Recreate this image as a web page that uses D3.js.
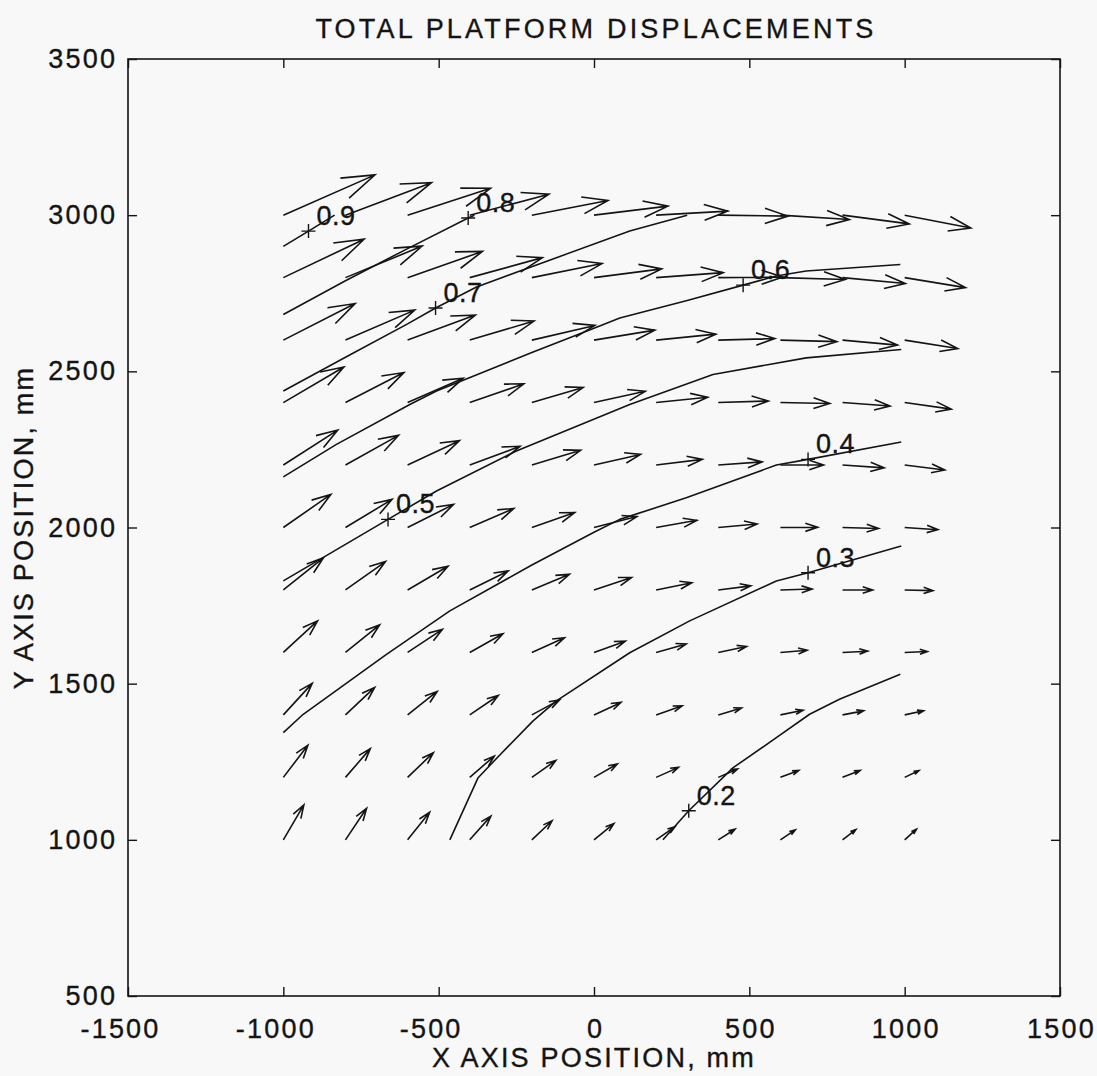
<!DOCTYPE html>
<html>
<head>
<meta charset="utf-8">
<script src="https://cdn.jsdelivr.net/npm/d3@7"></script>
<style>
  html, body { margin: 0; padding: 0; background: #f8f8f8; }
  svg { display: block; }
  text { font-family: "Liberation Sans", Arial, Helvetica, sans-serif; fill: #141414; stroke: #141414; stroke-width: 0.35px; }
</style>
</head>
<body>
<svg id="chart" width="1097" height="1076"></svg>
<script>
// Measurement grid (mm)
const xGrid = [-1000, -800, -600, -400, -200, 0, 200, 400, 600, 800, 1000];
const yGrid = [1000, 1200, 1400, 1600, 1800, 2000, 2200, 2400, 2600, 2800, 3000];

// Displacement vectors as plotted (mm on the axes), one row per y position
const U = [
  [ 66,  68,  71,  68,  65,  64,  61,  54,  48,  43,  38],
  [ 79,  80,  83,  79,  77,  75,  72,  62,  59,  57,  46],
  [ 93,  94,  95,  92,  89,  87,  84,  75,  73,  68,  61],
  [110, 110, 112, 107, 105, 101,  97,  91,  86,  81,  73],
  [129, 129, 130, 124, 121, 121, 115, 105, 102,  97,  91],
  [153, 150, 148, 142, 138, 138, 131, 125, 120, 116, 107],
  [175, 171, 167, 162, 157, 150, 149, 141, 139, 134, 129],
  [195, 188, 179, 174, 165, 165, 166, 161, 159, 153, 150],
  [231, 223, 218, 207, 203, 196, 192, 182, 182, 177, 171],
  [260, 247, 241, 234, 226, 218, 216, 208, 209, 202, 196],
  [295, 277, 267, 255, 245, 238, 231, 224, 222, 215, 213]
];
const V = [
  [112, 101,  88,  76,  61,  52,  42,  34,  32,  33,  34],
  [103,  92,  79,  68,  54,  43,  32,  27,  22,  22,  22],
  [101,  88,  75,  62,  48,  40,  29,  22,  15,  13,  13],
  [101,  88,  74,  60,  47,  36,  27,  19,   7,   4,   3],
  [103,  91,  76,  61,  50,  40,  23,  13,   3,   0,  -2],
  [106,  90,  74,  61,  48,  35,  23,  11,   1,  -3,  -7],
  [112,  95,  78,  60,  47,  34,  18,  10,   0,  -9, -16],
  [114,  96,  78,  60,  48,  36,  17,   5,  -3, -11, -21],
  [117,  96,  80,  61,  47,  32,  19,   5,  -5, -16, -27],
  [123, 101,  84,  64,  45,  28,  16,   2,  -6, -19, -32],
  [129, 104,  86,  67,  47,  29,  13,  -3, -14, -28, -41]
];

// Contour lines of total displacement magnitude
const contourLevels = [0.2, 0.3, 0.4, 0.5, 0.6, 0.7, 0.8, 0.9];
const c02 = [[222,1000],[305,1093],[448,1231],[587,1327],[694,1402],[790,1450],[986,1530]];
const c03 = [[-464,1000],[-373,1199],[-300,1275],[-196,1381],[-121,1445],[115,1599],[308,1701],[587,1829],[689,1855],[989,1941]];
const c04 = [[-1000,1343],[-936,1402],[-668,1594],[-464,1733],[-200,1880],[0,1985],[83,2026],[297,2095],[587,2200],[689,2218],[989,2274]];
const c05 = [[-1000,1829],[-663,2026],[-507,2117],[-250,2245],[115,2394],[383,2490],[683,2543],[989,2570]];
const c06 = [[-1000,2162],[-829,2266],[-593,2394],[-507,2437],[-200,2560],[0,2638],[83,2671],[300,2727],[480,2776],[586,2805],[683,2821],[986,2842]];
const c07 = [[-1000,2437],[-800,2545],[-600,2652],[-510,2703],[-378,2770],[-110,2868],[115,2949],[300,3000]];
const c08 = [[-1000,2682],[-800,2790],[-600,2893],[-405,2991],[-385,3000]];
const c09 = [[-1000,2900],[-919,2949],[-835,3000]];
const contourLines = [c02, c03, c04, c05, c06, c07, c08, c09];

// Where each level is labelled
const labelPoints = [[305,1093],[689,1855],[689,2218],[-663,2026],[480,2776],[-510,2703],[-405,2991],[-919,2949]];

const xTicks = [-1500, -1000, -500, 0, 500, 1000, 1500];
const yTicks = [500, 1000, 1500, 2000, 2500, 3000, 3500];

const svg = d3.select("#chart");
svg.append("rect").attr("width", 1097).attr("height", 1076).attr("fill", "#f8f8f8");

const x = d3.scaleLinear().domain([-1500, 1500]).range([128, 1060]);
const y = d3.scaleLinear().domain([500, 3500]).range([996, 59]);

const ink = "#141414";
const fontSize = 27;
const spacing = 2.2;

// Axes with inward ticks on all four sides
const tickLen = 9;
function styleAxis(g) {
  g.select(".domain").remove();
  g.selectAll(".tick line").attr("stroke", ink).attr("stroke-width", 1.4);
  g.selectAll(".tick text")
    .attr("fill", ink)
    .style("font-size", fontSize + "px")
    .style("letter-spacing", spacing + "px");
}
const fmt = d => String(d);

svg.append("g")
  .attr("transform", `translate(0,${y(500)})`)
  .call(d3.axisBottom(x).tickValues(xTicks).tickFormat(fmt).tickSize(-tickLen).tickPadding(37))
  .call(styleAxis)
  .call(g => g.selectAll(".tick text").attr("dx", d => d < 0 ? -8 : 1).attr("dy", "0.2em"));

svg.append("g")
  .attr("transform", `translate(0,${y(3500)})`)
  .call(d3.axisTop(x).tickValues(xTicks).tickFormat("").tickSize(-tickLen))
  .call(styleAxis);

svg.append("g")
  .attr("transform", `translate(${x(-1500)},0)`)
  .call(d3.axisLeft(y).tickValues(yTicks).tickFormat(fmt).tickSize(-tickLen).tickPadding(13))
  .call(styleAxis)
  .call(g => g.selectAll(".tick text").attr("dx", spacing));

svg.append("g")
  .attr("transform", `translate(${x(1500)},0)`)
  .call(d3.axisRight(y).tickValues(yTicks).tickFormat("").tickSize(-tickLen))
  .call(styleAxis);

// Frame
svg.append("rect")
  .attr("x", x(-1500)).attr("y", y(3500))
  .attr("width", x(1500) - x(-1500)).attr("height", y(500) - y(3500))
  .attr("fill", "none").attr("stroke", ink).attr("stroke-width", 1.6);

// Contour lines
const line = d3.line().x(d => x(d[0])).y(d => y(d[1]));
svg.append("g").selectAll("path")
  .data(contourLines)
  .join("path")
  .attr("d", line)
  .attr("fill", "none")
  .attr("stroke", ink)
  .attr("stroke-width", 1.6)
  .attr("stroke-linejoin", "round");

// Quiver arrows, head size 0.33 of length, half-width 0.33 of that
const alpha = 0.33, beta = 0.33;
const arrows = [];
yGrid.forEach((y0, i) => {
  xGrid.forEach((x0, j) => {
    arrows.push({x0, y0, u: U[i][j], v: V[i][j]});
  });
});
function arrowPath(a) {
  const tx = a.x0 + a.u, ty = a.y0 + a.v;
  const h1x = tx - alpha * (a.u + beta * a.v), h1y = ty - alpha * (a.v - beta * a.u);
  const h2x = tx - alpha * (a.u - beta * a.v), h2y = ty - alpha * (a.v + beta * a.u);
  return `M${x(a.x0)},${y(a.y0)}L${x(tx)},${y(ty)}` +
         `M${x(h1x)},${y(h1y)}L${x(tx)},${y(ty)}L${x(h2x)},${y(h2y)}`;
}
svg.append("g").selectAll("path")
  .data(arrows)
  .join("path")
  .attr("d", arrowPath)
  .attr("fill", "none")
  .attr("stroke", ink)
  .attr("stroke-width", 1.6)
  .attr("stroke-linejoin", "miter");

// Contour labels: a plus marker with the level beside it
const labels = svg.append("g").selectAll("g")
  .data(labelPoints.map((p, k) => ({p, level: contourLevels[k]})))
  .join("g")
  .attr("transform", d => `translate(${x(d.p[0])},${y(d.p[1])})`);
labels.append("path")
  .attr("d", "M-7,0H7M0,-7V7")
  .attr("stroke", ink)
  .attr("stroke-width", 1.4);
labels.append("text")
  .attr("x", 8).attr("y", -6)
  .style("font-size", fontSize + "px")
  .style("letter-spacing", "0.5px")
  .text(d => d.level.toFixed(1));

// Titles
svg.append("text")
  .attr("x", (x(-1500) + x(1500)) / 2 + 2).attr("y", 38)
  .attr("text-anchor", "middle")
  .style("font-size", fontSize + "px")
  .style("letter-spacing", "3.2px")
  .text("TOTAL PLATFORM DISPLACEMENTS");

svg.append("text")
  .attr("x", (x(-1500) + x(1500)) / 2).attr("y", 1067)
  .attr("text-anchor", "middle")
  .style("font-size", fontSize + "px")
  .style("letter-spacing", spacing + "px")
  .text("X AXIS POSITION, mm");

svg.append("text")
  .attr("transform", `translate(33,${(y(500) + y(3500)) / 2}) rotate(-90)`)
  .attr("text-anchor", "middle")
  .style("font-size", fontSize + "px")
  .style("letter-spacing", spacing + "px")
  .text("Y AXIS POSITION, mm");
</script>
</body>
</html>
